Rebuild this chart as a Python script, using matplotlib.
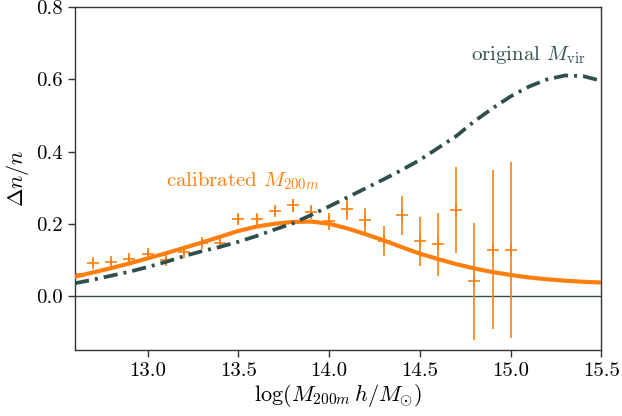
import numpy as np
import matplotlib
matplotlib.use('Agg')
import matplotlib.pyplot as plt

plt.rcParams['font.family'] = 'serif'
plt.rcParams['font.serif'] = ['cmr10']
plt.rcParams['mathtext.fontset'] = 'cm'
plt.rcParams['axes.formatter.use_mathtext'] = True

# model curves, log mass grid
logm = [12.6, 12.7, 12.8, 12.9, 13.0, 13.1, 13.2, 13.3, 13.4, 13.5,
        13.6, 13.7, 13.8, 13.9, 14.0, 14.1, 14.2, 14.3, 14.4, 14.5,
        14.6, 14.7, 14.8, 14.9, 15.0, 15.1, 15.2, 15.3, 15.4, 15.5]
calibrated = [0.053, 0.065, 0.077, 0.090, 0.104, 0.118, 0.133, 0.148, 0.164, 0.180,
              0.192, 0.200, 0.205, 0.206, 0.200, 0.187, 0.171, 0.154, 0.135, 0.117,
              0.102, 0.088, 0.076, 0.066, 0.058, 0.051, 0.046, 0.042, 0.039, 0.037]
original = [0.035, 0.045, 0.056, 0.067, 0.080, 0.094, 0.110, 0.124, 0.136, 0.150,
            0.166, 0.184, 0.201, 0.224, 0.248, 0.273, 0.298, 0.323, 0.349, 0.377,
            0.410, 0.443, 0.484, 0.520, 0.553, 0.580, 0.600, 0.611, 0.609, 0.596]

# simulation measurements
logm_pts = [12.6, 12.7, 12.8, 12.9, 13.0, 13.1, 13.2, 13.3, 13.4, 13.5,
            13.6, 13.7, 13.8, 13.9, 14.0, 14.1, 14.2, 14.3, 14.4, 14.5,
            14.6, 14.7, 14.8, 14.9, 15.0]
dn_pts = [0.062, 0.092, 0.093, 0.102, 0.117, 0.100, 0.121, 0.147, 0.147, 0.212,
          0.213, 0.235, 0.251, 0.232, 0.207, 0.240, 0.210, 0.153, 0.223, 0.151,
          0.143, 0.238, 0.040, 0.128, 0.126]
dn_err = [0.008, 0.008, 0.008, 0.008, 0.009, 0.009, 0.009, 0.010, 0.010, 0.011,
          0.012, 0.014, 0.018, 0.020, 0.024, 0.030, 0.034, 0.042, 0.054, 0.067,
          0.088, 0.118, 0.163, 0.221, 0.244]

orange = '#ff7f0e'
slate = '#2f4f4f'

fig = plt.figure(figsize=(6.22, 4.16), dpi=100)
ax = fig.add_axes([0.1206, 0.1587, 0.8464, 0.8238])

ax.axhline(0, color=slate, lw=1.0, zorder=1)
ax.errorbar(logm_pts, dn_pts, yerr=dn_err, fmt='+', color=orange,
            ms=8, mew=1.2, elinewidth=1.2, capsize=0, zorder=2)
ax.plot(logm, calibrated, color=orange, lw=3.0, zorder=3)
ax.plot(logm, original, color=slate, lw=2.7,
        linestyle=(0, (3.8, 1.6, 0.8, 1.6)), zorder=4)

ax.text(13.1, 0.318, r'calibrated $M_{200m}$', color=orange,
        fontsize=15, va='center', ha='left')
ax.text(14.78, 0.667, r'original $M_{\rm vir}$', color=slate,
        fontsize=15, va='center', ha='left')

ax.set_xlim(12.6, 15.5)
ax.set_ylim(-0.15, 0.8)
ax.set_xticks([13.0, 13.5, 14.0, 14.5, 15.0, 15.5])
ax.set_yticks([0.0, 0.2, 0.4, 0.6, 0.8])
ax.set_xticklabels(['13.0', '13.5', '14.0', '14.5', '15.0', '15.5'])
ax.set_yticklabels(['0.0', '0.2', '0.4', '0.6', '0.8'])
ax.tick_params(labelsize=15, length=5, width=1, color='#333333')
for s in ax.spines.values():
    s.set_color('#333333')
    s.set_linewidth(1.0)

ax.set_xlabel(r'$\log(M_{200m}\,h/M_{\odot})$', fontsize=16, labelpad=2)
ax.set_ylabel(r'$\Delta n/n$', fontsize=16, labelpad=4)

fig.savefig('out.png', dpi=100)
